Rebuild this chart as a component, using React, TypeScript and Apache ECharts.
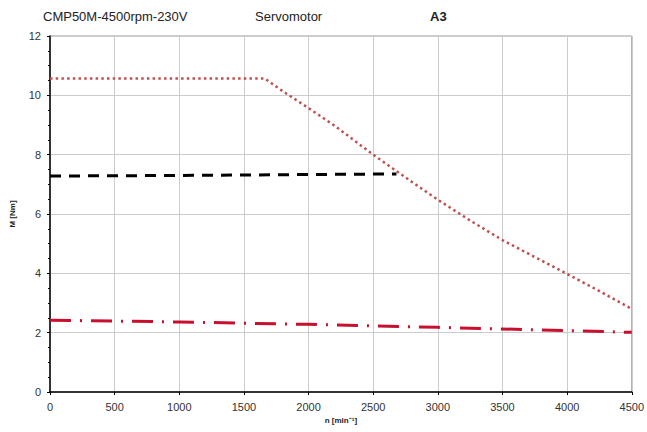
import React, { useEffect, useRef } from "react";
import * as echarts from "echarts";

const peakSpeed = [0, 1660, 1800, 2000, 2200, 2500, 2800, 3000, 3250, 3500, 3750, 4000, 4250, 4500];
const peakTorque = [10.57, 10.57, 10.14, 9.57, 8.98, 8.0, 7.08, 6.48, 5.78, 5.12, 4.55, 3.98, 3.4, 2.8];
const dynSpeed = [0, 1000, 2000, 2680];
const dynTorque = [7.28, 7.3, 7.33, 7.35];
const contSpeed = [0, 1000, 2000, 3000, 4000, 4500];
const contTorque = [2.42, 2.36, 2.28, 2.18, 2.07, 2.01];
const xTicks = [0, 500, 1000, 1500, 2000, 2500, 3000, 3500, 4000, 4500];
const yTicks = [0, 2, 4, 6, 8, 10, 12];

const pairs = (xs: number[], ys: number[]) => xs.map((x, i) => [x, ys[i]]);

export default function App() {
  const ref = useRef<HTMLDivElement>(null);
  useEffect(() => {
    const chart = echarts.init(ref.current!, null, { renderer: "svg", width: 647, height: 432 });
    const font = "Liberation Sans, Arial, sans-serif";
    chart.setOption({
      animation: false,
      textStyle: { fontFamily: font },
      graphic: [
        { type: "text", left: 43, top: 10, style: { text: "CMP50M-4500rpm-230V", font: `13px ${font}`, fill: "#222" } },
        { type: "text", left: 255, top: 10, style: { text: "Servomotor", font: `13px ${font}`, fill: "#222" } },
        { type: "text", left: 430, top: 10, style: { text: "A3", font: `bold 13px ${font}`, fill: "#222" } },
      ],
      grid: { left: 49, width: 585, top: 36, height: 356, show: true, borderColor: "#999", borderWidth: 1 },
      xAxis: {
        type: "value",
        min: xTicks[0],
        max: xTicks[xTicks.length - 1],
        interval: 500,
        name: "n [min⁻¹]",
        nameLocation: "middle",
        nameGap: 24,
        nameTextStyle: { fontSize: 8, fontWeight: "bold", color: "#222" },
        axisLine: { lineStyle: { color: "#000", width: 1.5 } },
        axisTick: { inside: false, length: 3, lineStyle: { color: "#000" } },
        axisLabel: { fontSize: 11, color: "#333", margin: 9, formatter: (v: number) => String(v) },
        splitLine: { lineStyle: { color: "#ccc" } },
      },
      yAxis: {
        type: "value",
        min: yTicks[0],
        max: yTicks[yTicks.length - 1],
        interval: 2,
        name: "M [Nm]",
        nameLocation: "middle",
        nameGap: 34,
        nameTextStyle: { fontSize: 8, fontWeight: "bold", color: "#222" },
        axisLine: { show: true, lineStyle: { color: "#000", width: 1.5 } },
        axisTick: { show: true, length: 3, lineStyle: { color: "#000" } },
        minorTick: { show: true, splitNumber: 4, length: 2, lineStyle: { color: "#000" } },
        axisLabel: { fontSize: 11, color: "#333", margin: 9, formatter: (v: number) => String(v) },
        splitLine: { lineStyle: { color: "#ccc" } },
      },
      series: [
        {
          type: "line",
          data: pairs(peakSpeed, peakTorque),
          showSymbol: false,
          lineStyle: { color: "#c0504d", width: 2.5, type: [2.5, 3.2], cap: "butt" },
        },
        {
          type: "line",
          data: pairs(dynSpeed, dynTorque),
          showSymbol: false,
          lineStyle: { color: "#000", width: 3, type: [11, 8] },
        },
        {
          type: "line",
          data: pairs(contSpeed, contTorque),
          showSymbol: false,
          lineStyle: { color: "#c8102e", width: 3, type: [21, 9, 2, 9] },
        },
      ],
    });
    return () => chart.dispose();
  }, []);
  return <div ref={ref} style={{ width: 647, height: 432, position: "absolute", left: 0, top: 0 }} />;
}
